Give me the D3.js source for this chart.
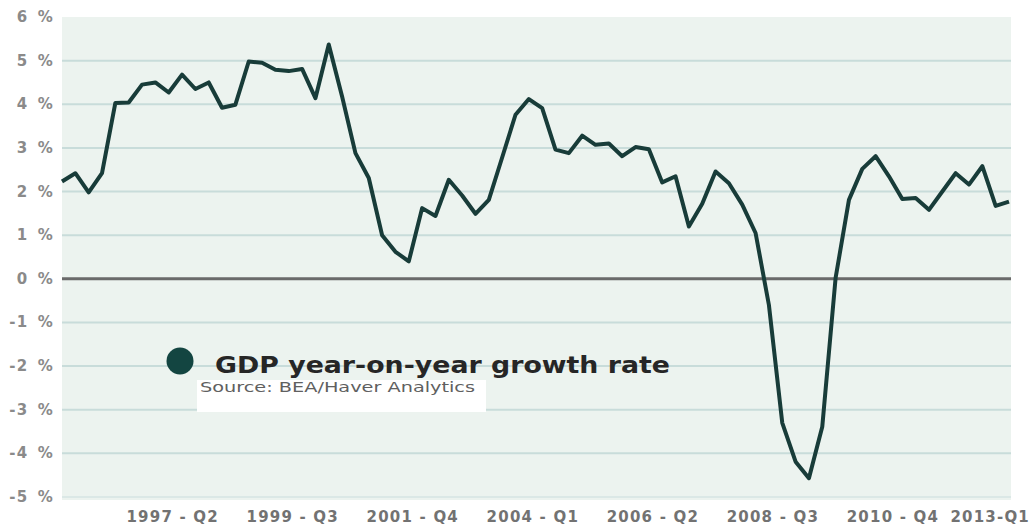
<!DOCTYPE html>
<meta charset="utf-8">
<script src="https://d3js.org/d3.v7.min.js"></script>
<style>
body { margin: 0; background: #ffffff; }
text { font-family: "DejaVu Sans", Verdana, sans-serif; }
</style>
<body>
<div id="my_dataviz"></div>
<script>

// quarters shown on the chart (1995 Q2 .. 2013 Q1)
var quarters = [
  "1995-Q2","1995-Q3","1995-Q4",
  "1996-Q1","1996-Q2","1996-Q3","1996-Q4",
  "1997-Q1","1997-Q2","1997-Q3","1997-Q4",
  "1998-Q1","1998-Q2","1998-Q3","1998-Q4",
  "1999-Q1","1999-Q2","1999-Q3","1999-Q4",
  "2000-Q1","2000-Q2","2000-Q3","2000-Q4",
  "2001-Q1","2001-Q2","2001-Q3","2001-Q4",
  "2002-Q1","2002-Q2","2002-Q3","2002-Q4",
  "2003-Q1","2003-Q2","2003-Q3","2003-Q4",
  "2004-Q1","2004-Q2","2004-Q3","2004-Q4",
  "2005-Q1","2005-Q2","2005-Q3","2005-Q4",
  "2006-Q1","2006-Q2","2006-Q3","2006-Q4",
  "2007-Q1","2007-Q2","2007-Q3","2007-Q4",
  "2008-Q1","2008-Q2","2008-Q3","2008-Q4",
  "2009-Q1","2009-Q2","2009-Q3","2009-Q4",
  "2010-Q1","2010-Q2","2010-Q3","2010-Q4",
  "2011-Q1","2011-Q2","2011-Q3","2011-Q4",
  "2012-Q1","2012-Q2","2012-Q3","2012-Q4",
  "2013-Q1"
];

// GDP year-on-year growth rate, %
var growth = [
  2.23, 2.42, 1.98,
  2.42, 4.03, 4.04, 4.45,
  4.50, 4.27, 4.68, 4.35,
  4.50, 3.92, 3.99, 4.98,
  4.95, 4.79, 4.76, 4.81,
  4.14, 5.37, 4.18, 2.88,
  2.31, 1.00, 0.62, 0.40,
  1.62, 1.44, 2.27, 1.91,
  1.49, 1.81, 2.78, 3.76,
  4.12, 3.91, 2.96, 2.88,
  3.28, 3.07, 3.10, 2.81,
  3.02, 2.97, 2.21, 2.35,
  1.20, 1.72, 2.46, 2.19,
  1.70, 1.05, -0.60, -3.30,
  -4.19, -4.57, -3.39, 0.02,
  1.81, 2.52, 2.81, 2.35,
  1.83, 1.85, 1.58, 2.00,
  2.42, 2.16, 2.58, 1.67,
  1.77
];

// x axis labels and the quarter each one sits on
var tickQuarters = ["1997-Q2","1999-Q3","2001-Q4","2004-Q1","2006-Q2","2008-Q3","2010-Q4","2013-Q1"];
var tickLabels = ["1997 - Q2","1999 - Q3","2001 - Q4","2004 - Q1","2006 - Q2","2008 - Q3","2010 - Q4","2013-Q1"];

// y axis ticks
var yTicks = [6, 5, 4, 3, 2, 1, 0, -1, -2, -3, -4, -5];

var seriesName = "GDP year-on-year growth rate";
var sourceText = "Source: BEA/Haver Analytics";

var width = 1034, height = 529;
var margin = {top: 17, right: 25, bottom: 32, left: 62};

var svg = d3.select("#my_dataviz")
  .append("svg")
    .attr("width", width)
    .attr("height", height);

var data = quarters.map(function(q, i) { return {q: q, v: growth[i]}; });

var x = d3.scalePoint()
  .domain(quarters)
  .range([margin.left, width - margin.right]);

var y = d3.scaleLinear()
  .domain([-5, 6])
  .range([height - margin.bottom, margin.top]);

// plot background
svg.append("rect")
  .attr("x", margin.left)
  .attr("y", y(6))
  .attr("width", width - margin.right - margin.left + 2)
  .attr("height", y(-5) - y(6) + 3)
  .attr("fill", "#ecf3ef");

// gridlines
svg.append("g")
  .selectAll("line")
  .data(yTicks.filter(function(d) { return d !== 0 && d !== 6; }))
  .enter()
  .append("line")
    .attr("x1", margin.left)
    .attr("x2", width - margin.right + 2)
    .attr("y1", function(d) { return y(d); })
    .attr("y2", function(d) { return y(d); })
    .attr("stroke", function(d) { return d === -5 ? "#dbe8e6" : "#c8dcda"; })
    .attr("stroke-width", 2);

// zero line
svg.append("line")
  .attr("x1", margin.left)
  .attr("x2", width - margin.right + 2)
  .attr("y1", y(0))
  .attr("y2", y(0))
  .attr("stroke", "#6a6a6a")
  .attr("stroke-width", 3);

// y labels
svg.append("g")
  .selectAll("text")
  .data(yTicks)
  .enter()
  .append("text")
    .attr("x", margin.left - 8)
    .attr("y", function(d) { return y(d) + 5; })
    .attr("text-anchor", "end")
    .attr("font-size", 15)
    .attr("font-weight", "bold")
    .attr("letter-spacing", 1.2)
    .attr("word-spacing", 3)
    .attr("fill", "#8a8a8a")
    .text(function(d) { return d + " %"; });

// x labels
svg.append("g")
  .selectAll("text")
  .data(tickQuarters)
  .enter()
  .append("text")
    .attr("x", function(d, i) {
      return i === tickQuarters.length - 1 ? x(d) + 21 : x(d) + 4;
    })
    .attr("y", height - 7)
    .attr("text-anchor", function(d, i) { return i === tickQuarters.length - 1 ? "end" : "middle"; })
    .attr("font-size", 15)
    .attr("font-weight", "bold")
    .attr("letter-spacing", 1.2)
    .attr("fill", "#727272")
    .text(function(d, i) { return tickLabels[i]; });

// source box + legend
var lx = 180, ly = 361;
svg.append("rect")
  .attr("x", lx + 17)
  .attr("y", ly + 19)
  .attr("width", 289)
  .attr("height", 32)
  .attr("fill", "#ffffff");

svg.append("circle")
  .attr("cx", lx)
  .attr("cy", ly)
  .attr("r", 13.5)
  .attr("fill", "#134541");

svg.append("text")
  .attr("x", lx + 35)
  .attr("y", ly + 12)
  .attr("font-size", 23)
  .attr("font-weight", "bold")
  .attr("fill", "#262626")
  .attr("textLength", 455)
  .attr("lengthAdjust", "spacingAndGlyphs")
  .text(seriesName);

svg.append("text")
  .attr("x", lx + 20)
  .attr("y", ly + 31)
  .attr("font-size", 14)
  .attr("fill", "#606060")
  .attr("textLength", 275)
  .attr("lengthAdjust", "spacingAndGlyphs")
  .text(sourceText);

// the line
var line = d3.line()
  .x(function(d) { return x(d.q); })
  .y(function(d) { return y(d.v); });

svg.append("path")
  .datum(data)
  .attr("fill", "none")
  .attr("stroke", "#183c39")
  .attr("stroke-width", 4)
  .attr("stroke-linejoin", "round")
  .attr("d", line);

</script>
</body>
